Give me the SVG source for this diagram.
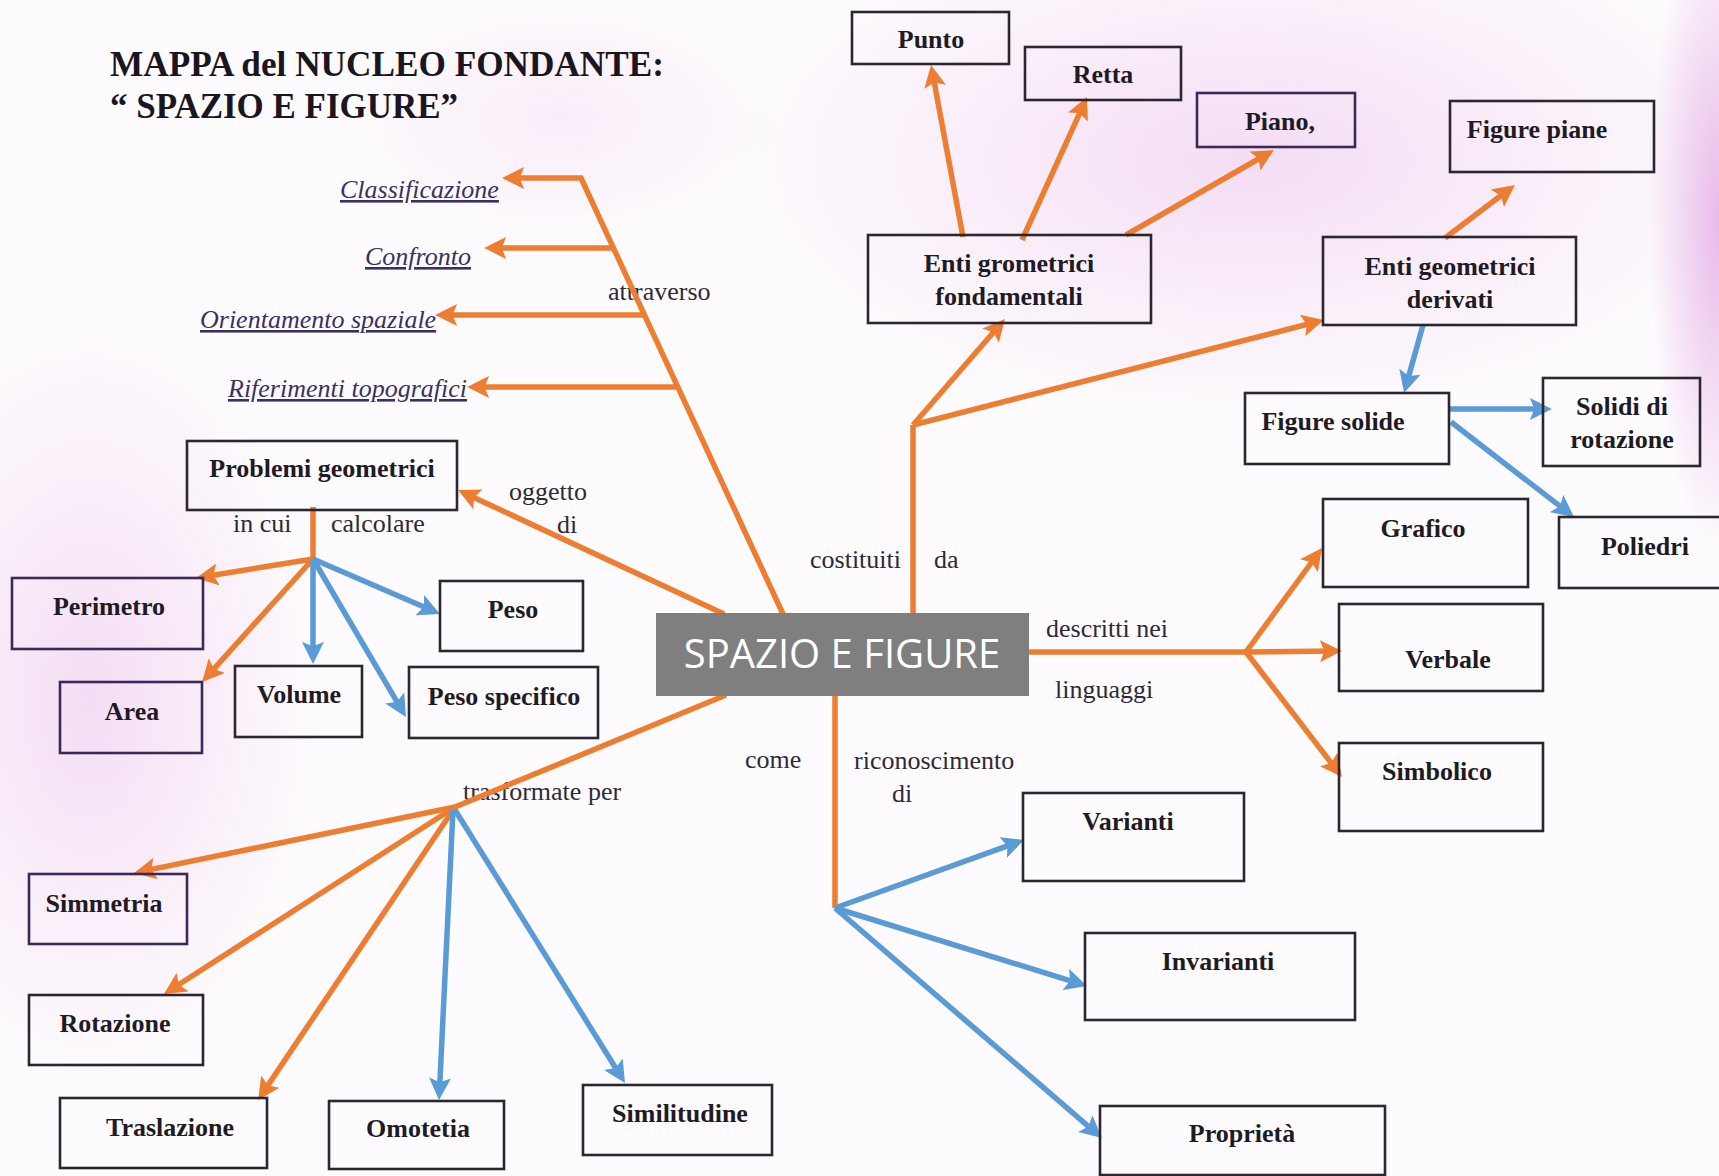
<svg xmlns="http://www.w3.org/2000/svg" width="1719" height="1176" viewBox="0 0 1719 1176">
<defs>
<style>
.box{fill:none;stroke:#2b2630;stroke-width:2.6}
.bt{font-family:"Liberation Serif",serif;font-weight:bold;font-size:26px;fill:#1e1b24;text-anchor:middle}
.lb{font-family:"Liberation Serif",serif;font-size:26px;fill:#2e2a38}
.it{font-family:"Liberation Serif",serif;font-style:italic;font-size:26px;fill:#39325f;text-decoration:underline}
.ti{font-family:"Liberation Serif",serif;font-weight:bold;font-size:35px;fill:#1a1620}
.o{fill:none;stroke:#ED7D31;stroke-width:5.5;stroke-linejoin:miter}
.oa{marker-end:url(#mo)}
.b{fill:none;stroke:#5B9BD5;stroke-width:5.5;marker-end:url(#mb)}
</style>
<marker id="mo" viewBox="0 0 10 10" refX="6.4" refY="5" markerWidth="4" markerHeight="4" markerUnits="strokeWidth" orient="auto">
<path d="M0,0 L10,5 L0,10 L2,5 Z" fill="#ED7D31"/>
</marker>
<marker id="mb" viewBox="0 0 10 10" refX="6.4" refY="5" markerWidth="4" markerHeight="4" markerUnits="strokeWidth" orient="auto">
<path d="M0,0 L10,5 L0,10 L2,5 Z" fill="#5B9BD5"/>
</marker>
<radialGradient id="pk" cx="0.5" cy="0.5" r="0.5">
<stop offset="0" stop-color="#f2d6f2" stop-opacity="0.8"/>
<stop offset="1" stop-color="#f2d6f2" stop-opacity="0"/>
</radialGradient>
<radialGradient id="pk2" cx="0.5" cy="0.5" r="0.5">
<stop offset="0" stop-color="#e6b3e8" stop-opacity="0.9"/>
<stop offset="1" stop-color="#e6b3e8" stop-opacity="0"/>
</radialGradient>
</defs>
<rect width="1719" height="1176" fill="#fdfbfd"/>
<g id="background">
<ellipse cx="1250" cy="160" rx="520" ry="260" fill="url(#pk)"/>
<ellipse cx="1719" cy="220" rx="70" ry="330" fill="url(#pk2)"/>
<ellipse cx="90" cy="700" rx="230" ry="380" fill="url(#pk)"/>
<ellipse cx="560" cy="120" rx="220" ry="120" fill="url(#pk)" opacity="0.5"/>
</g>
<g id="title">
<text class="ti" x="110" y="76" textLength="554" lengthAdjust="spacingAndGlyphs">MAPPA del NUCLEO FONDANTE:</text>
<text class="ti" x="110" y="118" textLength="348" lengthAdjust="spacingAndGlyphs">“ SPAZIO E FIGURE”</text>
</g>
<g id="labels">
<text class="lb" x="608" y="300">attraverso</text>
<text class="lb" x="509" y="500">oggetto</text>
<text class="lb" x="557" y="533">di</text>
<text class="lb" x="233" y="532">in cui</text>
<text class="lb" x="331" y="532">calcolare</text>
<text class="lb" x="810" y="568">costituiti</text>
<text class="lb" x="934" y="568">da</text>
<text class="lb" x="1046" y="637">descritti nei</text>
<text class="lb" x="1055" y="698">linguaggi</text>
<text class="lb" x="745" y="768">come</text>
<text class="lb" x="854" y="769">riconoscimento</text>
<text class="lb" x="892" y="802">di</text>
<text class="lb" x="463" y="800">trasformate per</text>
</g>
<g id="connectors">
<path class="o oa" d="M783,614 L581,178 L510,178"/>
<path class="o oa" d="M614,248 L492,248"/>
<path class="o oa" d="M645,315 L443,315"/>
<path class="o oa" d="M678,387 L475,387"/>
<path class="o oa" d="M724,614 L465.2,493.4"/>
<path class="o" d="M313,507 L313,559"/>
<path class="o oa" d="M313,559 L203.9,576.7"/>
<path class="o oa" d="M313,559 L207.4,676.1"/>
<path class="b" d="M313,559 L313,656"/>
<path class="b" d="M313,559 L432.7,610.8"/>
<path class="b" d="M313,559 L401.9,710.1"/>
<path class="o" d="M726,695 L455,807"/>
<path class="o oa" d="M455,807 L141.8,871.4"/>
<path class="o oa" d="M455,807 L170.7,989.7"/>
<path class="o oa" d="M455,807 L262.5,1093.4"/>
<path class="b" d="M453,810 L439.4,1092"/>
<path class="b" d="M455,810 L620.8,1076.2"/>
<path class="o" d="M835,695 L835,908"/>
<path class="b" d="M835,908 L1016.5,842.7"/>
<path class="b" d="M835,908 L1079.4,983.6"/>
<path class="b" d="M835,908 L1095.9,1132.8"/>
<path class="o" d="M913,614 L913,425"/>
<path class="o oa" d="M913,425 L999.8,325"/>
<path class="o oa" d="M913,425 L1316.2,322"/>
<path class="o oa" d="M963,237 L932.5,72.9"/>
<path class="o oa" d="M1022,240 L1083.7,104.3"/>
<path class="o oa" d="M1126,235 L1267.1,154"/>
<path class="o oa" d="M1445,238 L1508.6,189.8"/>
<path class="b" d="M1423,325 L1406.2,385.3"/>
<path class="b" d="M1449,409 L1544,409"/>
<path class="b" d="M1451,422 L1567.7,512.1"/>
<path class="o" d="M1029,652 L1246,652"/>
<path class="o oa" d="M1246,652 L1317.3,554.5"/>
<path class="o oa" d="M1246,652 L1334,651"/>
<path class="o oa" d="M1246,652 L1337.1,770.7"/>
</g>
<g id="n-centro">
<rect x="656" y="613" width="373" height="83" fill="#7f7f7f"/>
<text x="842" y="668" text-anchor="middle" font-family="'Open Sans',sans-serif" font-size="40" fill="#ffffff">SPAZIO E FIGURE</text>
</g>
<g id="n-classificazione"><text class="it" x="340" y="198">Classificazione</text></g>
<g id="n-confronto"><text class="it" x="365" y="265">Confronto</text></g>
<g id="n-orientamento"><text class="it" x="200" y="328">Orientamento spaziale</text></g>
<g id="n-riferimenti"><text class="it" x="228" y="397">Riferimenti topografici</text></g>
<g id="n-punto"><rect class="box" x="852" y="12" width="157" height="52"/><text class="bt" x="931" y="48">Punto</text></g>
<g id="n-retta"><rect class="box" x="1025" y="47" width="156" height="53"/><text class="bt" x="1103" y="83">Retta</text></g>
<g id="n-piano"><rect class="box" x="1197" y="93" width="158" height="54" style="stroke:#3a2a55"/><text class="bt" x="1280" y="130">Piano,</text></g>
<g id="n-figurepiane"><rect class="box" x="1450" y="101" width="204" height="71"/><text class="bt" x="1537" y="138">Figure piane</text></g>
<g id="n-entifond"><rect class="box" x="868" y="235" width="283" height="88"/><text class="bt" x="1009" y="272">Enti grometrici</text><text class="bt" x="1009" y="305">fondamentali</text></g>
<g id="n-entideriv"><rect class="box" x="1323" y="237" width="253" height="88"/><text class="bt" x="1450" y="275">Enti geometrici</text><text class="bt" x="1450" y="308">derivati</text></g>
<g id="n-figuresolide"><rect class="box" x="1245" y="393" width="204" height="71"/><text class="bt" x="1333" y="430">Figure solide</text></g>
<g id="n-solidirot"><rect class="box" x="1543" y="378" width="157" height="88"/><text class="bt" x="1622" y="415">Solidi di</text><text class="bt" x="1622" y="448">rotazione</text></g>
<g id="n-poliedri"><rect class="box" x="1559" y="517" width="165" height="71"/><text class="bt" x="1645" y="555">Poliedri</text></g>
<g id="n-grafico"><rect class="box" x="1323" y="499" width="205" height="88"/><text class="bt" x="1423" y="537">Grafico</text></g>
<g id="n-verbale"><rect class="box" x="1339" y="604" width="204" height="87"/><text class="bt" x="1448" y="668">Verbale</text></g>
<g id="n-simbolico"><rect class="box" x="1339" y="743" width="204" height="88"/><text class="bt" x="1437" y="780">Simbolico</text></g>
<g id="n-varianti"><rect class="box" x="1023" y="793" width="221" height="88"/><text class="bt" x="1128" y="830">Varianti</text></g>
<g id="n-invarianti"><rect class="box" x="1085" y="933" width="270" height="87"/><text class="bt" x="1218" y="970">Invarianti</text></g>
<g id="n-proprieta"><rect class="box" x="1100" y="1106" width="285" height="69"/><text class="bt" x="1242" y="1142">Proprietà</text></g>
<g id="n-problemi"><rect class="box" x="187" y="441" width="270" height="69"/><text class="bt" x="322" y="477">Problemi geometrici</text></g>
<g id="n-perimetro"><rect class="box" x="12" y="578" width="191" height="71" style="stroke:#3a2a55"/><text class="bt" x="109" y="615">Perimetro</text></g>
<g id="n-peso"><rect class="box" x="440" y="581" width="143" height="70"/><text class="bt" x="513" y="618">Peso</text></g>
<g id="n-area"><rect class="box" x="60" y="682" width="142" height="71" style="stroke:#3a2a55"/><text class="bt" x="132" y="720">Area</text></g>
<g id="n-volume"><rect class="box" x="235" y="666" width="127" height="71"/><text class="bt" x="299" y="703">Volume</text></g>
<g id="n-pesospec"><rect class="box" x="409" y="667" width="189" height="71"/><text class="bt" x="504" y="705">Peso specifico</text></g>
<g id="n-simmetria"><rect class="box" x="29" y="874" width="158" height="70" style="stroke:#3a2a55"/><text class="bt" x="104" y="912">Simmetria</text></g>
<g id="n-rotazione"><rect class="box" x="29" y="995" width="174" height="70"/><text class="bt" x="115" y="1032">Rotazione</text></g>
<g id="n-traslazione"><rect class="box" x="60" y="1098" width="207" height="70"/><text class="bt" x="170" y="1136">Traslazione</text></g>
<g id="n-omotetia"><rect class="box" x="329" y="1101" width="175" height="68"/><text class="bt" x="418" y="1137">Omotetia</text></g>
<g id="n-similitudine"><rect class="box" x="583" y="1085" width="189" height="70"/><text class="bt" x="680" y="1122">Similitudine</text></g>
</svg>
